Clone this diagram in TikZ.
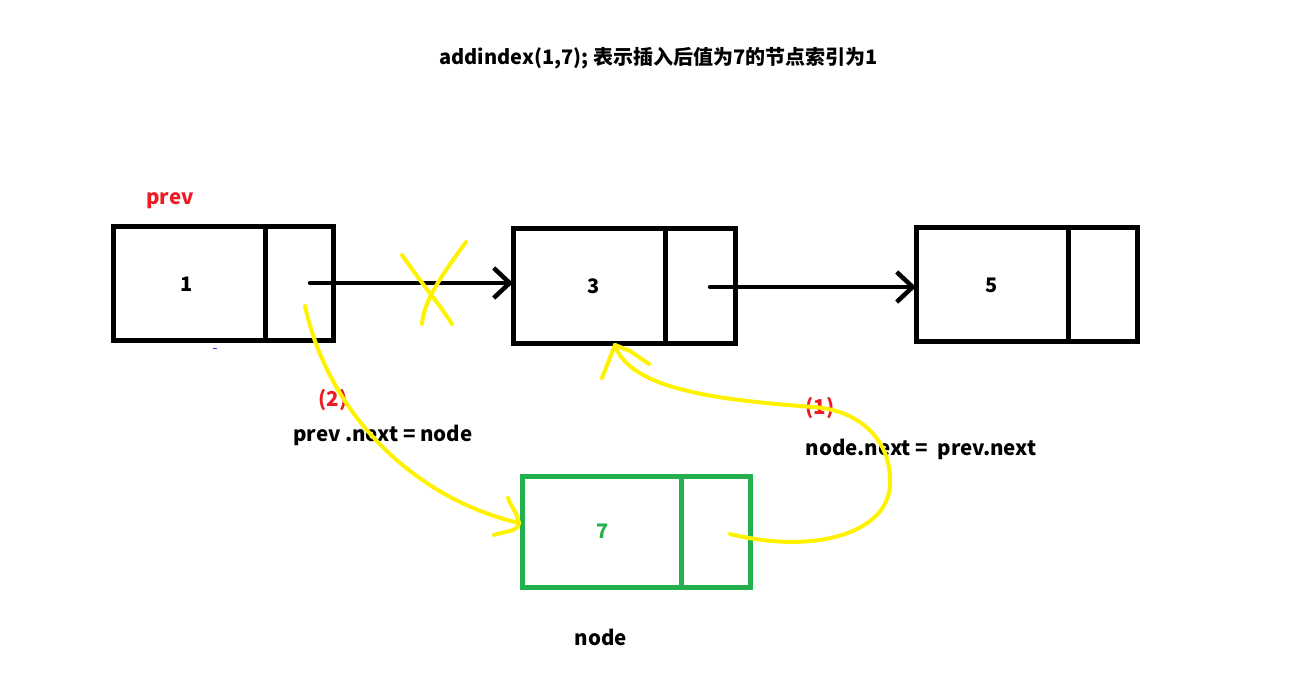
\documentclass[tikz,border=0pt]{standalone}
\usepackage{fontspec}
\setmainfont{Noto Sans CJK SC}
\usetikzlibrary{arrows.meta,calc}
\definecolor{pred}{RGB}{237,28,36}
\definecolor{pgreen}{RGB}{34,177,76}
\definecolor{pyellow}{RGB}{255,242,0}
\tikzset{
  cell/.style={draw=black,line width=5pt,rectangle,inner sep=0pt,outer sep=0pt,minimum height=114pt,font=\fontsize{20}{23}\selectfont\bfseries},
  gcell/.style={cell,draw=pgreen,text=pgreen,minimum height=111pt},
  txt/.style={font=\fontsize{20.5}{23}\selectfont\bfseries,inner sep=0pt},
  rtxt/.style={txt,text=pred},
  link/.style={line width=4.5pt,line cap=round,-{Straight Barb[length=16pt,width=30pt,line width=4.5pt]}},
  hand/.style={draw=pyellow,line width=4pt,line cap=round,line join=round}
}
\begin{document}
\begin{tikzpicture}[x=1pt,y=-1pt]
\useasboundingbox (0,0) rectangle (1315,684);
% title
\node[txt,font=\fontsize{20}{23}\selectfont\bfseries] (title) at (658.5,58) {addindex(1,7); 表示插入后值为7的节点索引为1};
% list nodes
\node[cell,minimum width=152pt] (n1v) at (189,284) {\hspace*{-4pt}1};
\node[cell,minimum width=68pt] (n1n) at (299,284) {};
\node[cell,minimum width=152pt,minimum height=115pt] (n3v) at (589,286.5) {\hspace*{10pt}3};
\node[cell,minimum width=70pt,minimum height=115pt] (n3n) at (700,286.5) {};
\node[cell,minimum width=152pt] (n5v) at (992,285) {5};
\node[cell,minimum width=69pt] (n5n) at (1102.5,285) {};
\node[gcell,minimum width=159pt] (n7v) at (601.5,531.5) {\hspace*{3pt}7};
\node[gcell,minimum width=69pt] (n7n) at (715.5,531.5) {};
% labels
\node[rtxt] (lprev) at (170,201) {prev};
\node[txt] (lnode) at (601,637) {node};
\node[rtxt] (l2) at (333,400) {(2)};
\node[txt] (l2t) at (383,435) {prev .next = node};
\node[rtxt] (l1) at (820,408) {(1)};
\node[txt] (l1t) at (921,449) {node.next = \ prev.next};
% black links
\coordinate (s1) at (310,283);
\coordinate (s3) at (710,287);
\draw[link] (s1) -- (n3v.west |- s1);
\draw[link] (s3) -- (n5v.west |- s3);
% stray mark
\coordinate (dash) at (213,349);
\draw[blue!80,line width=1pt] (dash) -- ++(4,0);
% yellow cross
\coordinate (x1a) at (402,255);
\coordinate (x1b) at (452,324);
\coordinate (x2a) at (466,242);
\coordinate (x2b) at (422,324);
\draw[hand] (x1a) .. controls (425,288) and (440,305) .. (x1b);
\draw[hand] (x2a) .. controls (442,275) and (424,300) .. (x2b);
% (2) prev.next = node
\coordinate (c2s) at (305,306);
\coordinate (c2e) at (519,523);
\draw[hand] (c2s) .. controls (330,420) and (420,500) .. (c2e);
\draw[hand] (c2e) .. controls (516,510) and (510,505) .. ++(-11,-25);
\draw[hand] (c2e) .. controls (518,532) and (505,531) .. ++(-25,12);
% (1) node.next = prev.next
\coordinate (c1s) at (730,534);
\coordinate (c1a) at (890,480);
\coordinate (c1b) at (813,407);
\coordinate (c1e) at (615,345);
\draw[hand] (c1s) .. controls (820,556) and (893,530) .. (c1a)
  .. controls (890,440) and (860,410) .. (c1b)
  .. controls (720,400) and (630,390) .. (c1e);
\draw[hand] (c1e) -- ++(-13,33);
\draw[hand] (c1e) -- ++(15,6) -- ++(19,13);
\end{tikzpicture}
\end{document}
